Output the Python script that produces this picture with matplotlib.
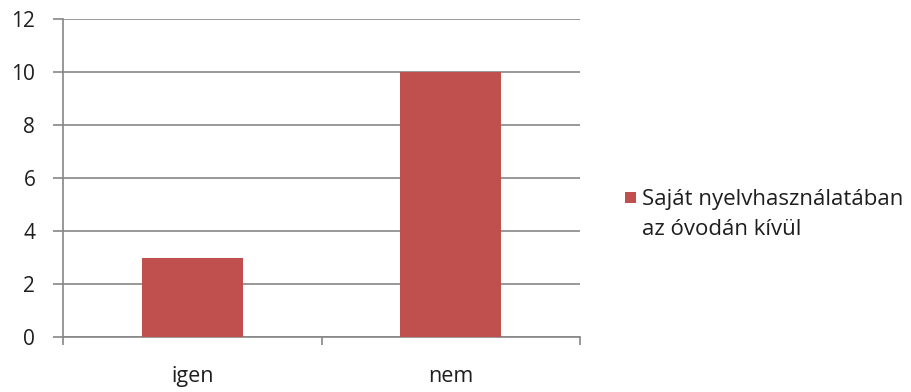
import matplotlib.pyplot as plt
from matplotlib.patches import Rectangle

categories = ["igen", "nem"]
values = [3, 10]
series_name = ["Saját nyelvhasználatában", "az óvodán kívül"]
y_ticks = [0, 2, 4, 6, 8, 10, 12]

bar_color = "#C0504D"
grid_color = "#868686"
text_color = "#1e1e1e"

plt.rcParams['font.family'] = ['Open Sans', 'DejaVu Sans']

fig = plt.figure(figsize=(9.11, 3.92), dpi=100)
ax = fig.add_axes([0.0692, 0.1403, 0.5675, 0.8112])

x = list(range(len(categories)))
ax.bar(x, values, width=0.39, color=bar_color, zorder=3)

ax.set_xlim(-0.5, len(categories) - 0.5)
ax.set_ylim(0, 12)
ax.set_yticks(y_ticks)
ax.set_yticklabels([str(v) for v in y_ticks], fontsize=15, color=text_color)
ax.yaxis.grid(True, color=grid_color, linewidth=1.2, zorder=0)

# category labels sit between boundary ticks
ax.set_xticks([-0.5, 0.5, 1.5])
ax.set_xticklabels([])
ax.set_xticks(x, minor=True)
ax.set_xticklabels(categories, minor=True, fontsize=15.5, color=text_color)
ax.tick_params(axis="x", which="minor", length=0, pad=21)
ax.tick_params(axis="x", which="major", length=6, color=grid_color, width=1.2)
ax.tick_params(axis="y", length=7, color=grid_color, width=1.2, pad=13)

for side in ["top", "right"]:
    ax.spines[side].set_visible(False)
ax.spines["left"].set_color(grid_color)
ax.spines["left"].set_linewidth(1.2)
ax.spines["bottom"].set_color(grid_color)
ax.spines["bottom"].set_linewidth(1.2)

# legend: colour key next to the first line of the series name
fig.patches.append(Rectangle((625 / 911, 1 - 203 / 392), 11 / 911, 11 / 392,
                             transform=fig.transFigure, facecolor=bar_color,
                             edgecolor="none"))
fig.text(642 / 911, 1 - 205 / 392, series_name[0], fontsize=16,
         color=text_color, va="baseline", ha="left")
fig.text(642 / 911, 1 - 235 / 392, series_name[1], fontsize=16,
         color=text_color, va="baseline", ha="left")

fig.savefig("out.png", dpi=100)
